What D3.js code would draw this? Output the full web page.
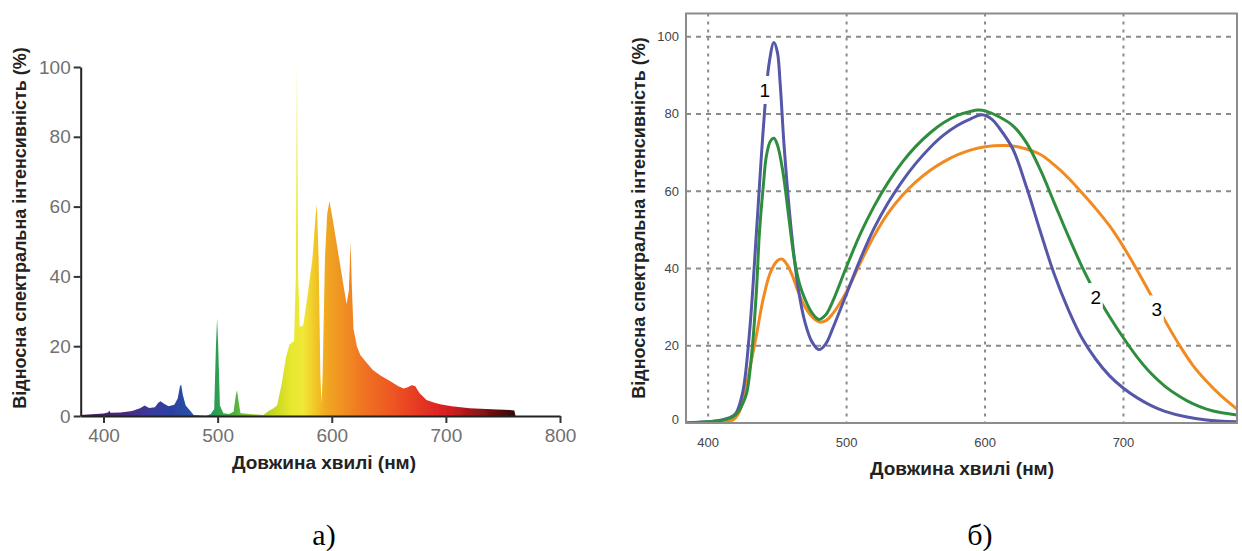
<!DOCTYPE html>
<html>
<head>
<meta charset="utf-8">
<script src="https://cdn.jsdelivr.net/npm/d3@7"></script>
<style>
    body { margin: 0; background: #fff; }
    svg { display: block; }
    text { font-family: "Liberation Sans", Arial, sans-serif; }
</style>
</head>
<body>
<div id="chart"></div>
<script>
"use strict";

// ---- panel (а): lamp spectrum ----
const lampWl = [380, 390, 400, 404, 405, 406, 415, 425, 432, 436, 440, 445, 448, 450, 453, 457, 462, 465, 467, 468, 469.5, 472, 476, 479,
    490, 494, 497, 498.5, 499.5, 500.5, 502, 505, 510, 514, 516, 517, 518, 520, 540, 545, 549, 552, 556, 560, 563, 567,
    568.5, 569.5, 570.5, 572, 575, 579, 583, 586, 587, 588.5, 590, 591, 592, 594, 596, 598, 601, 604, 607, 610, 613, 615,
    616.5, 617.5, 619, 622, 625, 630, 636, 643, 651, 658, 663, 666, 670, 673, 677, 683, 690, 695, 705, 721, 740, 756, 760, 761];
const lampVal = [0.3, 0.5, 0.7, 1.0, 1.6, 0.9, 1.0, 1.4, 2.2, 3.0, 2.3, 2.5, 3.8, 4.2, 3.5, 2.8, 3.2, 5, 8.5, 9, 6, 3, 1.5, 0.3,
    0.1, 0.6, 2, 20, 28, 20, 3, 0.8, 0.6, 1.2, 6, 7.4, 5, 0.8, 0.3, 1.5, 2.2, 3, 9, 17, 20.5, 21.5,
    40, 100, 40, 25.5, 26, 35, 45, 58, 60.5, 45, 12, 3.6, 12, 45, 58, 61.5, 56, 50, 44, 38, 32, 36,
    50, 38, 25, 20, 17.5, 15.5, 13.2, 11.5, 10, 8.6, 7.9, 8.2, 8.8, 8.6, 6.5, 4.6, 3.8, 3.4, 2.8, 2.2, 1.9, 1.7, 1.6, 0];

// colour of the light along the wavelength axis
const stopWl = [380, 420, 440, 460, 475, 482, 490, 500, 515, 530, 550, 565, 575, 585, 595, 610, 630, 650, 670, 690, 705, 720, 740, 760];
const stopColor = ["#3a1a4a", "#4a2a80", "#3a3a9a", "#2a40a0", "#2850a8", "#3060b0", "#2a8a70", "#2aa050", "#50b040", "#90c830",
    "#c8d820", "#e8e830", "#f0e838", "#f2c828", "#f0a820", "#f09020", "#f07020", "#ee5a20", "#e84020", "#e02820",
    "#d01c20", "#a81818", "#701010", "#301010"];

const ticksXA = [400, 500, 600, 700, 800];
const ticksYA = [0, 20, 40, 60, 80, 100];

// ---- panel (б): three LED spectra ----
const wl1 = [384, 400, 410, 415, 420, 425, 430, 435, 440, 444, 447.5, 450, 452, 455, 460, 465, 470, 475, 480, 485, 490, 500, 510, 520,
    530, 540, 550, 560, 570, 580, 590, 598, 605, 610, 620, 630, 640, 650, 660, 670, 680, 690, 700, 710, 720, 730, 745, 760, 782];
const val1 = [0, 0.3, 0.8, 1.3, 2.5, 8, 24, 50, 77, 93, 98.5, 96, 88, 71, 50, 35, 26, 21, 19, 20.5, 24.5, 33.5, 42.5, 50.5,
    57, 62.5, 67.2, 71.2, 74.5, 77, 78.8, 79.8, 78.6, 76.5, 71, 61, 49.5, 38.5, 29.5, 22, 16.5, 12.2, 9, 6.5, 4.5, 3, 1.6, 0.8, 0.3];

const wl2 = [384, 400, 410, 418, 422, 425, 428, 432, 435, 437, 440, 442, 445, 447.5, 450, 454, 458, 462, 466, 470, 475, 480, 485, 490,
    500, 510, 520, 530, 540, 550, 560, 570, 580, 590, 595, 600, 610, 620, 630, 640, 650, 660, 670, 680, 690, 700, 710, 720,
    730, 740, 750, 760, 770, 782];
const val2 = [0, 0.3, 0.7, 1.6, 3, 5, 8, 20, 35, 49, 62, 69, 73, 73.7, 72, 65, 54, 43, 36, 32, 28.5, 26.8, 28, 31.5,
    40.5, 49, 56.2, 62.3, 67.4, 71.6, 75, 77.7, 79.6, 80.7, 81, 80.8, 79.3, 77, 72.5, 65.5, 57, 48.5, 40.5, 33.5, 27.5, 22, 17, 12.8,
    9.5, 7, 5, 3.6, 2.7, 2.1];

const wl3 = [384, 400, 410, 418, 422, 425, 428, 432, 435, 440, 445, 450, 453.5, 457, 461, 465, 470, 475, 480, 485, 490, 500, 510, 520,
    530, 540, 550, 560, 570, 580, 590, 600, 615, 625, 640, 650, 660, 670, 680, 690, 700, 710, 720, 730, 740, 750,
    760, 770, 782];
const val3 = [0, 0.2, 0.4, 0.8, 2.5, 5.5, 10.5, 17.5, 23, 32.5, 39, 42, 42.4, 41, 38, 34, 30, 27.5, 26.2, 26.5, 28.3, 34, 41.5, 48.5,
    54.3, 58.8, 62.4, 65.3, 67.6, 69.4, 70.7, 71.5, 71.8, 71.4, 69.5, 66.8, 63.5, 59.6, 55.5, 51, 45.6, 39.5, 33, 26.5, 20.4, 15,
    10.8, 7.2, 3.6];

const seriesNames = ["1", "2", "3"];
const seriesColors = ["#5557a8", "#2f8e3e", "#f28a22"];
const labelWl = [441, 680, 724];
const labelVal = [86.2, 32.6, 29.4];

const ticksXB = [400, 500, 600, 700];
const ticksYB = [0, 20, 40, 60, 80, 100];
const gridYB = [20, 40, 60, 80, 100];

const yTitle = "Відносна спектральна інтенсивність (%)";
const xTitle = "Довжина хвилі (нм)";
const captions = ["а)", "б)"];

const width = 1242;
const height = 551;

const svg = d3.select("#chart")
    .append("svg")
    .attr("width", width)
    .attr("height", height);

const defs = svg.append("defs");

// ======== panel (а) ========
const xA = d3.scaleLinear().domain([380, 800]).range([80.7, 560]);
const yA = d3.scaleLinear().domain([0, 100]).range([416, 67]);

const grad = defs.append("linearGradient")
    .attr("id", "rainbow")
    .attr("gradientUnits", "userSpaceOnUse")
    .attr("x1", xA(380)).attr("x2", xA(760))
    .attr("y1", 0).attr("y2", 0);
grad.selectAll("stop")
    .data(stopWl)
    .enter()
    .append("stop")
    .attr("offset", d => (d - 380) / (760 - 380))
    .attr("stop-color", (_, i) => stopColor[i]);

defs.append("filter")
    .attr("id", "soft")
    .append("feGaussianBlur")
    .attr("stdDeviation", 0.7);

const area = d3.area()
    .x((_, i) => xA(lampWl[i]))
    .y0(yA(0))
    .y1(d => yA(d));

svg.append("path")
    .datum(lampVal)
    .attr("d", area)
    .attr("fill", "url(#rainbow)")
    .attr("filter", "url(#soft)");

const axisXA = svg.append("g")
    .attr("transform", `translate(0, ${yA(0)})`)
    .call(d3.axisBottom(xA).tickValues(ticksXA).tickSize(7).tickSizeOuter(0));
const axisYA = svg.append("g")
    .attr("transform", `translate(${xA(380)}, 0)`)
    .call(d3.axisLeft(yA).tickValues(ticksYA).tickSize(7).tickSizeOuter(0));

[axisXA, axisYA].forEach(g => {
    g.select(".domain").attr("stroke", "#222").attr("stroke-width", 2);
    g.selectAll(".tick line").attr("stroke", "#333").attr("stroke-width", 2);
    g.selectAll(".tick text")
        .attr("fill", "#707070")
        .style("font-size", "19px")
        .style("font-family", "Liberation Sans, Arial, sans-serif");
});
axisXA.selectAll(".tick text").attr("y", 13);
axisYA.selectAll(".tick text").attr("x", -10);

svg.append("text")
    .attr("transform", `translate(26, 228) rotate(-90)`)
    .attr("text-anchor", "middle")
    .attr("font-weight", "bold")
    .attr("font-size", 18)
    .attr("fill", "#222")
    .text(yTitle);

svg.append("text")
    .attr("x", 324)
    .attr("y", 469)
    .attr("text-anchor", "middle")
    .attr("font-weight", "bold")
    .attr("font-size", 19)
    .attr("fill", "#222")
    .text(xTitle);

// ======== panel (б) ========
const xB = d3.scaleLinear().domain([384, 782]).range([686, 1237]);
const yB = d3.scaleLinear().domain([0, 106]).range([423, 13.5]);

defs.append("clipPath")
    .attr("id", "frame")
    .append("rect")
    .attr("x", xB(384)).attr("y", yB(106))
    .attr("width", xB(782) - xB(384))
    .attr("height", yB(0) - yB(106));

// grid
svg.append("g")
    .selectAll("line")
    .data(ticksXB)
    .enter()
    .append("line")
    .attr("x1", d => xB(d)).attr("x2", d => xB(d))
    .attr("y1", yB(106)).attr("y2", yB(0))
    .attr("stroke", "#8a8a8a")
    .attr("stroke-width", 2)
    .attr("stroke-dasharray", "3,5");

svg.append("g")
    .selectAll("line")
    .data(gridYB)
    .enter()
    .append("line")
    .attr("x1", xB(384)).attr("x2", xB(782))
    .attr("y1", d => yB(d)).attr("y2", d => yB(d))
    .attr("stroke", "#8a8a8a")
    .attr("stroke-width", 2)
    .attr("stroke-dasharray", "5,5");

// curves
const curveData = [
    wl1.map((w, i) => [w, val1[i]]),
    wl2.map((w, i) => [w, val2[i]]),
    wl3.map((w, i) => [w, val3[i]]),
];
const line = d3.line()
    .x(d => xB(d[0]))
    .y(d => yB(d[1]))
    .curve(d3.curveCatmullRom.alpha(0.5));

const curves = svg.append("g").attr("clip-path", "url(#frame)");
// orange first, then blue and green on top
[2, 0, 1].forEach(i => {
    curves.append("path")
        .datum(curveData[i])
        .attr("d", line)
        .attr("fill", "none")
        .attr("stroke", seriesColors[i])
        .attr("stroke-width", 3);
});

// frame
svg.append("rect")
    .attr("x", xB(384)).attr("y", yB(106))
    .attr("width", xB(782) - xB(384))
    .attr("height", yB(0) - yB(106))
    .attr("fill", "none")
    .attr("stroke", "#8c8c8c")
    .attr("stroke-width", 2);

// curve labels
const lbl = svg.append("g");
seriesNames.forEach((name, i) => {
    const cx = xB(labelWl[i]);
    const cy = yB(labelVal[i]);
    lbl.append("rect")
        .attr("x", cx - 7).attr("y", cy - 14)
        .attr("width", 14).attr("height", 28)
        .attr("fill", "#fff");
    lbl.append("text")
        .attr("x", cx).attr("y", cy)
        .attr("dy", "0.36em")
        .attr("text-anchor", "middle")
        .attr("font-size", 19)
        .attr("fill", "#000")
        .text(name);
});

// tick labels
svg.append("g")
    .selectAll("text")
    .data(ticksYB)
    .enter()
    .append("text")
    .attr("x", 679)
    .attr("y", d => Math.min(yB(d), 419))
    .attr("dy", "0.35em")
    .attr("text-anchor", "end")
    .attr("font-size", 13)
    .attr("fill", "#444")
    .text(d => d);

svg.append("g")
    .selectAll("text")
    .data(ticksXB)
    .enter()
    .append("text")
    .attr("x", d => xB(d))
    .attr("y", 442)
    .attr("dy", "0.35em")
    .attr("text-anchor", "middle")
    .attr("font-size", 13)
    .attr("fill", "#444")
    .text(d => d);

svg.append("text")
    .attr("transform", `translate(645, 218) rotate(-90)`)
    .attr("text-anchor", "middle")
    .attr("font-weight", "bold")
    .attr("font-size", 18)
    .attr("fill", "#222")
    .text(yTitle);

svg.append("text")
    .attr("x", 962)
    .attr("y", 475)
    .attr("text-anchor", "middle")
    .attr("font-weight", "bold")
    .attr("font-size", 19)
    .attr("fill", "#222")
    .text(xTitle);

// captions
[324, 980].forEach((x, i) => {
    svg.append("text")
        .attr("x", x)
        .attr("y", 545)
        .attr("text-anchor", "middle")
        .style("font-family", "Liberation Serif, Times New Roman, serif")
        .attr("font-size", 30)
        .attr("fill", "#000")
        .text(captions[i]);
});
</script>
</body>
</html>
